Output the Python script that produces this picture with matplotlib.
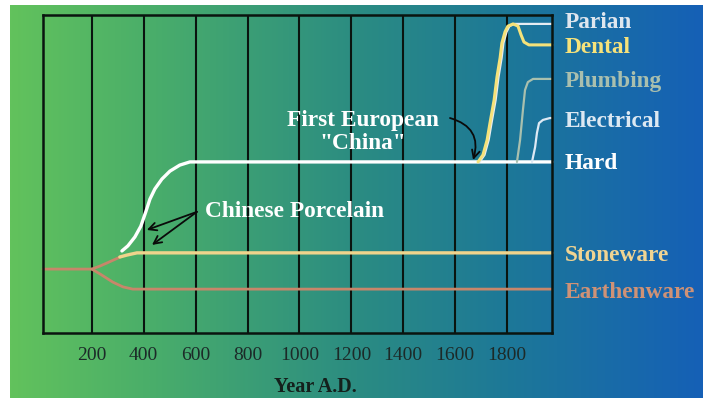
import numpy as np
import matplotlib
matplotlib.use("Agg")
import matplotlib.pyplot as plt
import matplotlib.transforms as mtransforms
from matplotlib.colors import LinearSegmentedColormap

plt.rcParams["font.family"] = ["Liberation Serif", "DejaVu Serif"]

# ---- data: year vs. relative level of ceramic technology ----
grid_years = [200, 400, 600, 800, 1000, 1200, 1400, 1600, 1800]

earth_years = [12, 200, 231, 281, 320, 358, 385, 1973]
earth_level = [20.1, 20.1, 18.6, 16.0, 14.5, 13.8, 13.8, 13.8]

stone_fork_years = [200, 230, 258, 285, 310]
stone_fork_level = [20.1, 21.0, 22.0, 23.0, 23.9]
stone_years = [308, 335, 374, 1973]
stone_level = [23.9, 24.5, 25.2, 25.2]

hard_years = [316, 339, 366, 389, 408, 424, 443, 470, 501, 539, 578, 1973]
hard_level = [25.8, 27.4, 30.2, 33.6, 38.1, 42.1, 45.3, 48.4, 50.9, 52.8, 53.8, 53.8]

parian_years = [1694, 1713, 1729, 1740, 1756, 1767, 1779, 1786, 1798, 1809, 1829, 1973]
parian_level = [53.8, 56.0, 60.7, 66.0, 73.3, 80.5, 86.5, 91.2, 94.7, 96.5, 97.2, 97.2]

dental_years = [1688, 1707, 1723, 1734, 1750, 1761, 1773, 1780, 1792, 1803, 1823,
                1842, 1854, 1865, 1884, 1973]
dental_level = [53.8, 56.0, 60.7, 66.0, 73.3, 80.5, 86.5, 91.2, 94.7, 96.5, 97.2,
                96.5, 93.7, 91.5, 90.6, 90.6]

plumb_years = [1838, 1850, 1861, 1869, 1880, 1900, 1973]
plumb_level = [53.8, 60.7, 70.1, 76.4, 78.9, 79.9, 79.9]

elec_years = [1896, 1908, 1915, 1923, 1938, 1965, 1973]
elec_level = [53.8, 58.5, 62.9, 66.0, 67.0, 67.6, 67.6]

# right-hand labels: (text, level, colour)
labels = ["Parian", "Dental", "Plumbing", "Electrical", "Hard", "Stoneware", "Earthenware"]
label_level = [98.6, 90.6, 79.9, 67.6, 54.4, 25.2, 13.8]
label_color = ["#dfe6ee", "#f6e27a", "#a9bfae", "#dce8f2", "#ffffff", "#f0d492", "#cf9276"]

# annotation anchors (year, level)
porcelain_tail = (605, 38.1)
porcelain_heads = [(412, 32.4), (432, 27.7)]
china_tail = (1580, 67.6)
china_head = (1669, 54.4)

W, H = 703, 401
fig = plt.figure(figsize=(W / 100, H / 100), dpi=100, facecolor="white")

# gradient backdrop
bg = fig.add_axes([0, 0, 1, 1])
bg.set_xlim(0, W)
bg.set_ylim(H, 0)
bg.axis("off")
grad_cmap = LinearSegmentedColormap.from_list(
    "bg", [(0.0, "#62c25c"), (0.2, "#4aae6a"), (0.5, "#2b8c82"),
           (0.72, "#1d7898"), (1.0, "#1560b6")])
bg.imshow(np.linspace(0, 1, 512)[None, :], cmap=grad_cmap, aspect="auto",
          extent=(10, W, 398, 5), interpolation="bilinear")

ax = fig.add_axes([43 / W, 1 - 333 / H, (552 - 43) / W, (333 - 15) / H])
ax.patch.set_alpha(0)
ax.set_xlim(12, 1973)
ax.set_ylim(0, 100)
ax.set_yticks([])
ax.set_xticks(grid_years)
ax.set_xticklabels([str(y) for y in grid_years], fontsize=14, color="#1c2a28")
ax.tick_params(axis="x", length=0, pad=10)
ax.grid(axis="x", color="#0a140f", linewidth=1.5)
for sp in ax.spines.values():
    sp.set_color("#0a140f")
    sp.set_linewidth(1.8)

lw = 2.0
kw = dict(solid_capstyle="round", solid_joinstyle="round", clip_on=False)
ax.plot(earth_years, earth_level, color="#c8866a", lw=lw, **kw)
ax.plot(stone_fork_years, stone_fork_level, color="#c8866a", lw=lw, **kw)
ax.plot(stone_years, stone_level, color="#f0d48c", lw=lw + 0.4, **kw)
ax.plot(hard_years, hard_level, color="white", lw=lw + 0.4, **kw)
ax.plot(plumb_years, plumb_level, color="#a9c0ae", lw=lw - 0.4, **kw)
ax.plot(elec_years, elec_level, color="#dde9f4", lw=lw - 0.4, **kw)
ax.plot(parian_years, parian_level, color="#e6ecf2", lw=lw - 0.4, **kw)
ax.plot(dental_years, dental_level, color="#f5e27a", lw=lw + 0.2, **kw)

# text sits a few pixels lower than its bbox centre would put it
nudge = mtransforms.ScaledTranslation(0, -3 / 100, fig.dpi_scale_trans)

# labels to the right of the plot
lab_tr = mtransforms.blended_transform_factory(fig.transFigure, ax.transData) + nudge
for txt, lev, col in zip(labels, label_level, label_color):
    ax.text(565 / W, lev, txt, transform=lab_tr, color=col, fontsize=16.8,
            fontweight="bold", va="center", ha="left")

# annotations
ax.text(636, 39.3, "Chinese Porcelain", color="white", fontsize=16.8,
        fontweight="bold", va="center", ha="left", transform=ax.transData + nudge)
for head in porcelain_heads:
    ax.annotate("", xy=head, xytext=porcelain_tail,
                arrowprops=dict(arrowstyle="->", color="#0a0a0a", lw=1.3,
                                shrinkA=0, shrinkB=0, mutation_scale=14))

ax.text(1245, 64.2, "First European\n\"China\"", color="white", fontsize=16.8,
        fontweight="bold", va="center", ha="center", linespacing=1.1,
        transform=ax.transData + nudge)
ax.annotate("", xy=china_head, xytext=china_tail,
            arrowprops=dict(arrowstyle="->", color="#0a0a0a", lw=1.3,
                            shrinkA=0, shrinkB=0, mutation_scale=14,
                            connectionstyle="arc3,rad=-0.5"))

fig.text(315 / W, 1 - 387 / H, "Year A.D.", color="#14201c", fontsize=14.5,
         fontweight="bold", ha="center", va="center")

fig.savefig("out.png", dpi=100, facecolor="white")
